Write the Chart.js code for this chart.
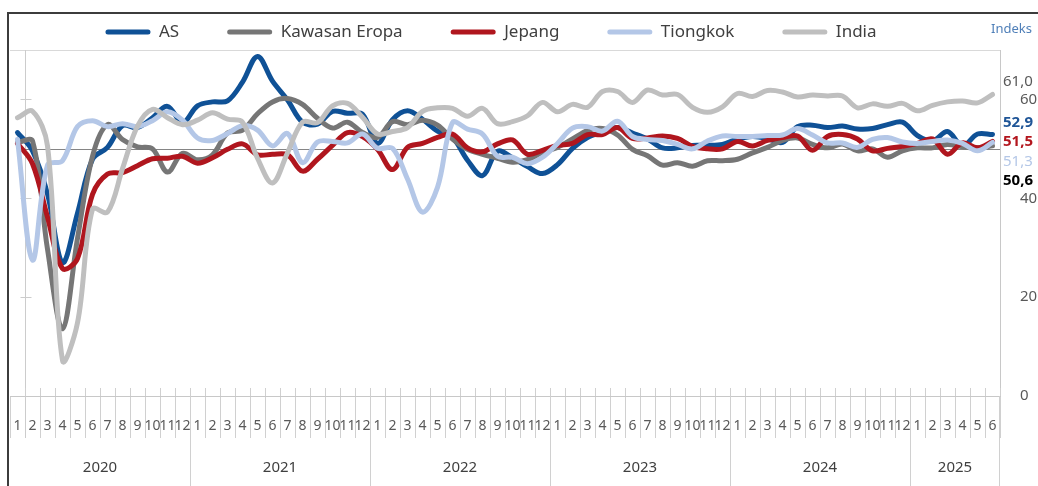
<!DOCTYPE html>
<html>
<head>
<meta charset="utf-8">
<script src="https://cdn.jsdelivr.net/npm/chart.js@4.4.1/dist/chart.umd.min.js"></script>
<style>
  html, body { margin: 0; padding: 0; background: #fff; overflow: hidden; }
  #wrap { position: relative; width: 1038px; height: 486px; }
  #frame { position: absolute; left: 7px; top: 12px; width: 1100px; height: 600px; border: 2px solid #3c3c3c; box-sizing: border-box; }
  canvas { position: absolute; left: 0; top: 0; }
</style>
</head>
<body>
<div id="wrap">
  <canvas id="myChart" width="1038" height="486"></canvas>
  <div id="frame"></div>
</div>
<script>
// composite PMI, Jan 2020 - Jun 2025
const years = ['2020', '2021', '2022', '2023', '2024', '2025'];
const monthsInYear = [12, 12, 12, 12, 12, 6];
const monthTicks = ['1', '2', '3', '4', '5', '6', '7', '8', '9', '10', '11', '12'];

const as = [53.3, 49.6, 40.9, 27.0, 37.0, 47.9, 50.3, 54.7, 54.3, 56.3, 58.6, 55.3,
  58.7, 59.5, 59.7, 63.5, 68.7, 63.7, 59.9, 55.4, 55.0, 57.6, 57.2, 57.0,
  51.1, 55.9, 57.7, 56.0, 53.6, 52.3, 47.7, 44.6, 49.5, 48.2, 46.4, 45.0,
  46.8, 50.1, 52.3, 53.4, 54.3, 53.2, 52.0, 50.2, 50.2, 50.7, 50.7, 50.9,
  52.0, 52.5, 52.1, 51.3, 54.5, 54.8, 54.3, 54.6, 54.0, 54.1, 54.9, 55.4,
  52.7, 51.6, 53.5, 50.6, 53.0, 52.9];
const kawasanEropa = [51.3, 51.6, 29.7, 13.6, 31.9, 48.5, 54.9, 51.9, 50.4, 50.0, 45.3, 49.1,
  47.8, 48.8, 53.2, 53.8, 57.1, 59.5, 60.2, 59.0, 56.2, 54.2, 55.4, 53.3,
  52.3, 55.5, 54.9, 55.8, 54.8, 52.0, 49.9, 48.9, 48.1, 47.3, 47.8, 49.3,
  50.3, 52.0, 53.7, 54.1, 52.8, 49.9, 48.6, 46.7, 47.2, 46.5, 47.6, 47.6,
  47.9, 49.2, 50.3, 51.7, 52.2, 50.9, 50.2, 51.0, 49.6, 50.0, 48.3, 49.6,
  50.2, 50.2, 50.9, 50.4, 50.2, 50.6];
const jepang = [51.1, 47.0, 36.2, 25.8, 27.8, 40.8, 44.9, 45.2, 46.6, 48.0, 48.1, 48.5,
  47.1, 48.2, 49.9, 51.0, 48.8, 48.9, 48.8, 45.5, 47.9, 50.7, 53.3, 52.5,
  49.9, 45.8, 50.3, 51.1, 52.3, 53.0, 50.2, 49.4, 51.0, 51.8, 48.9, 49.7,
  50.7, 51.1, 52.9, 52.9, 54.3, 52.1, 52.2, 52.6, 52.1, 50.5, 50.0, 50.0,
  51.5, 50.6, 51.7, 52.3, 52.6, 49.7, 52.5, 52.9, 52.0, 49.6, 50.1, 50.5,
  51.1, 52.0, 48.9, 51.2, 50.2, 51.5];
const tiongkok = [51.9, 27.5, 46.7, 47.6, 54.5, 55.7, 54.5, 55.1, 54.5, 55.7, 57.5, 55.8,
  52.2, 51.7, 53.1, 54.7, 53.8, 50.6, 53.1, 47.2, 51.4, 51.5, 51.2, 53.0,
  50.1, 50.1, 43.9, 37.2, 42.2, 55.3, 54.0, 53.0, 48.5, 48.3, 47.0, 48.3,
  51.1, 54.2, 54.5, 53.6, 55.6, 52.5, 51.9, 51.7, 50.9, 50.0, 51.6, 52.6,
  52.5, 52.5, 52.7, 52.8, 54.1, 52.8, 51.2, 51.2, 50.3, 51.9, 52.3, 51.4,
  51.1, 51.5, 51.8, 51.1, 49.6, 51.3];
const india = [56.3, 57.6, 50.6, 7.2, 14.8, 37.8, 37.2, 46.0, 54.6, 58.0, 56.3, 54.9,
  55.8, 57.3, 56.0, 55.4, 48.1, 43.1, 49.2, 55.4, 55.3, 58.7, 59.2, 56.4,
  53.0, 53.5, 54.3, 57.6, 58.3, 58.2, 56.6, 58.2, 55.1, 55.5, 56.7, 59.4,
  57.5, 59.0, 58.4, 61.6, 61.6, 59.4, 61.9, 60.9, 61.0, 58.4, 57.4, 58.5,
  61.2, 60.6, 61.8, 61.5, 60.5, 60.9, 60.7, 60.7, 58.3, 59.1, 58.6, 59.2,
  57.7, 58.8, 59.5, 59.7, 59.3, 61.0];

const yTicks = [0, 20, 40, 60];
const refLine = 50;

const labels = [];
monthsInYear.forEach(n => { for (let m = 0; m < n; m++) labels.push(monthTicks[m]); });

const valueLabelColors = ['#1f5597', '#000000', '#b3161e', '#b4c7e7', '#595959'];
const valueLabelBold = [true, true, true, false, false];

function line(label, data, color, order) {
  return {
    label: label, data: data,
    borderColor: color, backgroundColor: color,
    borderWidth: 5, pointRadius: 0, tension: 0.35,
    borderCapStyle: 'round', borderJoinStyle: 'round',
    order: order
  };
}

const decorations = {
  id: 'decorations',
  beforeInit(chart) {
    // keep the legend band short while using wide item spacing
    const lg = chart.legend;
    const fit = lg.fit;
    lg.fit = function () { fit.call(this); this.height = 40; };
  },
  afterLayout(chart) {
    const lg = chart.legend;
    lg.top = -24.5;
    lg.left -= 33;
    lg.right -= 33;
  },
  beforeDatasetsDraw(chart) {
    const { ctx, chartArea: a, scales: { x, y } } = chart;
    ctx.save();
    ctx.lineWidth = 1;
    ctx.strokeStyle = '#d9d9d9';
    ctx.beginPath();
    ctx.moveTo(a.left, a.top + 0.5); ctx.lineTo(a.right, a.top + 0.5);
    ctx.stroke();

    const lx = Math.round((x.getPixelForValue(0) + x.getPixelForValue(1)) / 2) + 0.5;
    ctx.strokeStyle = '#cccccc';
    ctx.beginPath();
    ctx.moveTo(lx, a.top); ctx.lineTo(lx, a.bottom + 42);
    yTicks.forEach(v => {
      if (v === 0) return;
      const py = Math.round(y.getPixelForValue(v)) + 0.5;
      ctx.moveTo(lx - 5, py); ctx.lineTo(lx + 6, py);
    });
    ctx.stroke();

    // month ticks cross the axis line slightly
    const half = (x.getPixelForValue(1) - x.getPixelForValue(0)) / 2;
    ctx.strokeStyle = '#d0d0d0';
    ctx.beginPath();
    labels.forEach((l, i) => {
      const bx = Math.round(x.getPixelForValue(i) + half) + 0.5;
      ctx.moveTo(bx, a.bottom - 8); ctx.lineTo(bx, a.bottom);
    });
    ctx.stroke();

    const yr = Math.round(y.getPixelForValue(refLine)) + 0.5;
    ctx.strokeStyle = '#858585';
    ctx.lineWidth = 1.2;
    ctx.beginPath();
    ctx.moveTo(x.getPixelForValue(0), yr); ctx.lineTo(a.right, yr);
    ctx.stroke();
    ctx.restore();
  },
  afterDraw(chart) {
    const { ctx, chartArea: a, scales: { x, y } } = chart;
    const half = (x.getPixelForValue(1) - x.getPixelForValue(0)) / 2;
    ctx.save();
    // year groups
    let start = 0;
    ctx.strokeStyle = '#d0d0d0';
    ctx.lineWidth = 1;
    ctx.font = '15px "Noto Sans"';
    ctx.fillStyle = '#404040';
    ctx.textAlign = 'center';
    ctx.textBaseline = 'middle';
    years.forEach((yr, i) => {
      const end = start + monthsInYear[i] - 1;
      const x0 = x.getPixelForValue(start) - half;
      const x1 = x.getPixelForValue(end) + half;
      ctx.fillText(yr, (x.getPixelForValue(start) + x.getPixelForValue(end)) / 2, a.bottom + 72);
      ctx.beginPath();
      if (i > 0) { ctx.moveTo(Math.round(x0) + 0.5, a.bottom); ctx.lineTo(Math.round(x0) + 0.5, chart.height); }
      if (i === years.length - 1) { ctx.moveTo(Math.round(x1) - 0.5, a.bottom); ctx.lineTo(Math.round(x1) - 0.5, chart.height); }
      ctx.stroke();
      start = end + 1;
    });

    // latest values at the right edge
    const metas = chart.data.datasets.map((d, i) => ({ i: i, v: d.data[d.data.length - 1] }))
      .sort((p, q) => q.v - p.v);
    const y60 = y.getPixelForValue(60);
    ctx.textAlign = 'left';
    metas.forEach((m, k) => {
      const py = k === 0 ? y60 - 18 : y60 + 23 + (k - 1) * 19.5;
      ctx.font = (valueLabelBold[m.i] ? 'bold ' : '') + '15px "Noto Sans"';
      ctx.fillStyle = valueLabelColors[m.i];
      ctx.fillText(m.v.toFixed(1).replace('.', ','), a.right + 3, py);
    });

    ctx.font = '13px "Liberation Sans Narrow", "Noto Sans"';
    ctx.fillStyle = '#4f7fb8';
    ctx.textAlign = 'right';
    ctx.fillText('Indeks', chart.width - 6, 29);
    ctx.restore();
  }
};

const ctx = document.getElementById('myChart');

new Chart(ctx, {
  type: 'line',
  data: {
    labels: labels,
    datasets: [
      line('AS', as, '#0f5196', 5),
      line('Kawasan Eropa', kawasanEropa, '#767676', 4),
      line('Jepang', jepang, '#b0161e', 3),
      line('Tiongkok', tiongkok, '#b4c7e7', 2),
      line('India', india, '#bfbfbf', 1)
    ]
  },
  options: {
    responsive: false,
    animation: false,
    layout: { padding: { top: 10, left: 10, right: 0, bottom: 0 } },
    plugins: {
      tooltip: { enabled: false },
      legend: {
        position: 'top',
        labels: {
          boxWidth: 45,
          boxHeight: 5,
          useBorderRadius: true,
          borderRadius: 2.5,
          padding: 48,
          color: '#404040',
          font: { family: '"Noto Sans"', size: 17 },
          sort: (p, q) => p.datasetIndex - q.datasetIndex,
          generateLabels(chart) {
            const items = Chart.defaults.plugins.legend.labels.generateLabels(chart);
            items.forEach(it => { it.lineWidth = 0; });
            return items;
          }
        }
      }
    },
    scales: {
      x: {
        type: 'category',
        offset: true,
        grid: { display: true, drawOnChartArea: false, drawTicks: true, tickLength: 42, color: '#d0d0d0', offset: true },
        border: { display: true, color: '#c8c8c8' },
        ticks: {
          autoSkip: false, maxRotation: 0, minRotation: 0, padding: -20,
          color: '#595959', font: { family: '"Noto Sans"', size: 14 }
        },
        afterFit(s) { s.height = 90; }
      },
      y: {
        position: 'right',
        min: 0, max: 70,
        grid: { display: false, drawTicks: false },
        border: { display: true, color: '#c8c8c8' },
        ticks: { padding: 20, color: '#595959', font: { family: '"Noto Sans"', size: 15 } },
        afterBuildTicks(s) { s.ticks = yTicks.map(v => ({ value: v })); },
        afterFit(s) { s.width = 38; }
      }
    }
  },
  plugins: [decorations]
});
</script>
</body>
</html>
